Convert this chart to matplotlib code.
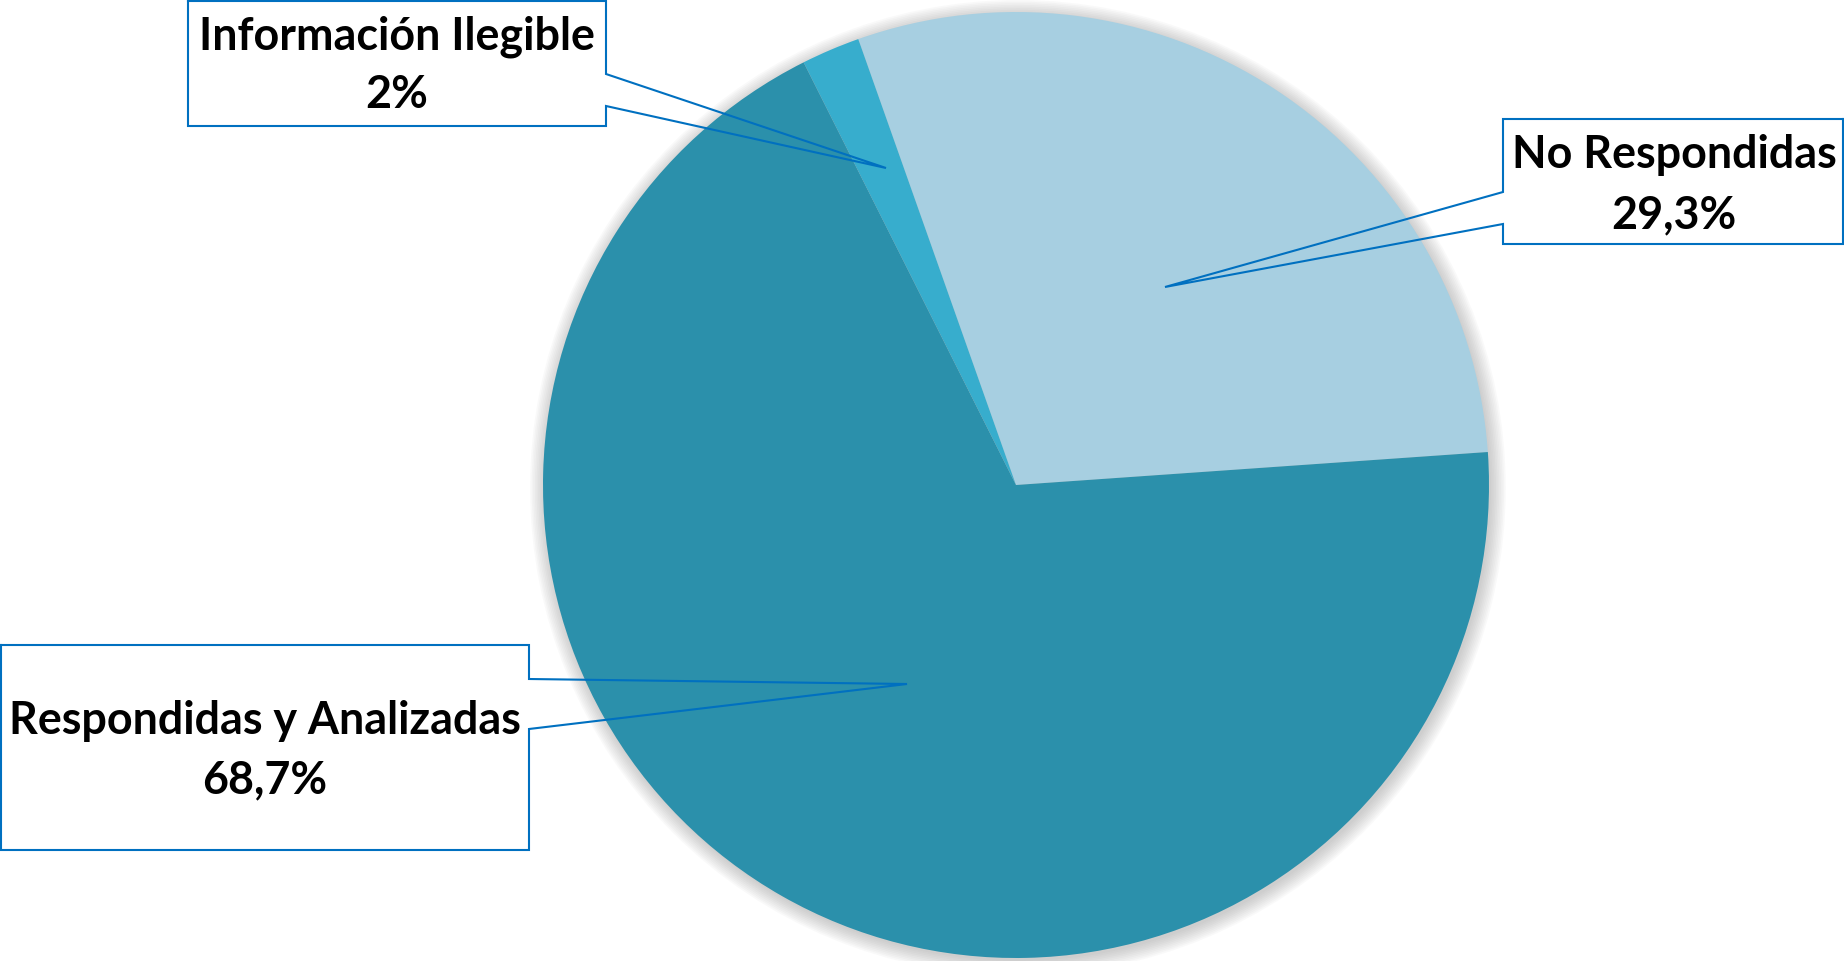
import matplotlib.pyplot as plt
from matplotlib.patches import Circle, Rectangle

# data
labels = ["No Respondidas", "Información Ilegible", "Respondidas y Analizadas"]
values = [29.3, 2.0, 68.7]
pct_text = ["29,3%", "2%", "68,7%"]
colors = ["#A7CFE1", "#37ADCD", "#2B90AB"]

W, H = 1844, 961
fig = plt.figure(figsize=(W / 100, H / 100), dpi=100)
fig.patch.set_facecolor("white")

# pie axes, centre and radius in pixels
cx, cy, r = 1016, 485, 473
ax = fig.add_axes([(cx - r) / W, (H - cy - r) / H, 2 * r / W, 2 * r / H])

# soft shadow behind the pie
for i in range(10):
    ax.add_patch(Circle((0.004, -0.006), 1 + i * 0.0035, color="grey",
                        alpha=0.045, lw=0, zorder=0, clip_on=False))

ax.pie(values, colors=colors, startangle=4, counterclock=True, radius=1,
       wedgeprops=dict(linewidth=0))
ax.set_xlim(-1, 1)
ax.set_ylim(-1, 1)
ax.axis("off")

# overlay in pixel coordinates for the callouts
ov = fig.add_axes([0, 0, 1, 1])
ov.set_xlim(0, W)
ov.set_ylim(H, 0)
ov.axis("off")
ov.patch.set_alpha(0)

box_col = "#0070C0"
font = dict(family=["Lato", "DejaVu Sans"], weight="bold", size=32.3, color="black")


def callout(x0, y0, x1, y1, side, a1, a2, tip):
    ov.add_patch(Rectangle((x0, y0), x1 - x0, y1 - y0, facecolor="white",
                           edgecolor="none", zorder=2))
    if side == "right":
        xs = [x0, x1, x1, tip[0], x1, x1, x0, x0]
    else:
        xs = [x1, x0, x0, tip[0], x0, x0, x1, x1]
    ys = [y0, y0, a1, tip[1], a2, y1, y1, y0]
    ov.plot(xs, ys, color=box_col, lw=1.5, zorder=3, solid_joinstyle="miter")


# Información Ilegible
callout(188, 1, 606, 126, "right", 74, 106, (886, 168))
ov.text(397, 50, labels[1], ha="center", va="baseline", zorder=4, **font)
ov.text(397, 108, pct_text[1], ha="center", va="baseline", zorder=4, **font)

# No Respondidas
callout(1503, 119, 1843, 244, "left", 192, 224, (1165, 287))
ov.text(1674, 168, labels[0], ha="center", va="baseline", zorder=4, **font)
ov.text(1674, 228, pct_text[0], ha="center", va="baseline", zorder=4, **font)

# Respondidas y Analizadas
callout(1, 645, 529, 850, "right", 679, 729, (907, 684))
ov.text(265, 734, labels[2], ha="center", va="baseline", zorder=4, **font)
ov.text(265, 793, pct_text[2], ha="center", va="baseline", zorder=4, **font)

fig.savefig("out.png", dpi=100, facecolor="white")
